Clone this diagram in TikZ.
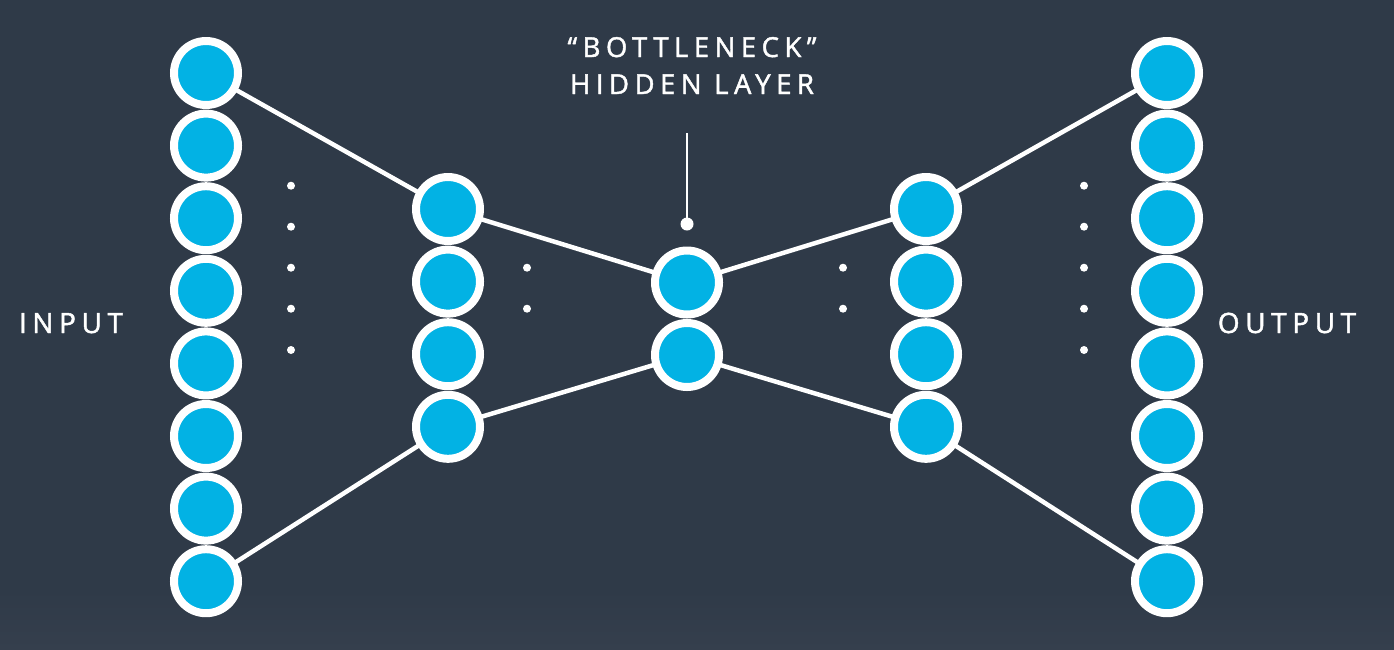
\documentclass[tikz,border=0pt]{standalone}
\usepackage{fontspec}
\newfontfamily\lblfont{Open Sans}[LetterSpace=20,FakeBold=1.6]
\usetikzlibrary{backgrounds}
\definecolor{bgcol}{RGB}{47,58,72}
\definecolor{bgbot}{RGB}{53,63,77}
\definecolor{nodeblue}{RGB}{2,178,228}
\pgfdeclarelayer{back}
\pgfsetlayers{back,background,main}
\tikzset{
  neuron/.style={circle, fill=nodeblue, draw=white, line width=8pt, minimum size=64pt, inner sep=0pt},
  conn/.style={white, line width=4.5pt},
  dotnode/.style={circle, fill=white, minimum size=8pt, inner sep=0pt},
  lbl/.style={text=white, font=\lblfont\fontsize{28}{34}\selectfont, inner sep=0pt, anchor=base},
  toplbl/.style={text=white, font=\lblfont\fontsize{27.5}{34}\selectfont, inner sep=0pt, anchor=base}
}
\begin{document}
\begin{tikzpicture}[x=1pt,y=-1pt]
\begin{pgfonlayer}{back}
  \fill[bgcol] (0,0) rectangle (1394,649);
  \shade[top color=bgcol, bottom color=bgbot] (0,590) rectangle (1394,649);
\end{pgfonlayer}
\useasboundingbox (0,0) rectangle (1394,649);
% input and output layers
\foreach \i in {1,...,8} {
  \node[neuron] (in\i) at (206,{73+72.6*(\i-1)}) {};
  \node[neuron] (out\i) at (1167,{73+72.6*(\i-1)}) {};
}
% second and fourth layers
\foreach \i in {1,...,4} {
  \node[neuron] (h\i) at (448,{209+72.6*(\i-1)}) {};
  \node[neuron] (g\i) at (926,{209+72.6*(\i-1)}) {};
}
% bottleneck
\node[neuron] (b1) at (687,282.5) {};
\node[neuron] (b2) at (687,355) {};
% connectors
\begin{pgfonlayer}{background}
  \draw[conn] (in1.center) -- (h1.center);
  \draw[conn] (in8.center) -- (h4.center);
  \draw[conn] (h1.center) -- (b1.center);
  \draw[conn] (h4.center) -- (b2.center);
  \draw[conn] (b1.center) -- (g1.center);
  \draw[conn] (b2.center) -- (g4.center);
  \draw[conn] (g1.center) -- (out1.center);
  \draw[conn] (g4.center) -- (out8.center);
\end{pgfonlayer}
% dots
\foreach \j/\y in {1/185.7,2/226.7,3/267.7,4/308.7,5/350} {
  \node[dotnode] (da\j) at (291,\y) {};
  \node[dotnode] (dd\j) at (1084,\y) {};
}
\foreach \j/\y in {1/267.7,2/308.7} {
  \node[dotnode] (db\j) at (527,\y) {};
  \node[dotnode] (dc\j) at (843,\y) {};
}
% labels
\node[lbl] (inlbl) at (71,333) {INPUT};
\node[lbl] (outlbl) at (1287,333) {OUTPUT};
\node[toplbl] (t1) at (692,57) {“BOTTLENECK”};
\node[toplbl] (t2) at (692,94) {HIDDEN LAYER};
% pointer
\coordinate (ptop) at (687,133);
\node[circle, fill=white, minimum size=13pt, inner sep=0pt] (pdot) at (687,224) {};
\draw[white, line width=2.7pt] (ptop) -- (pdot.center);
\end{tikzpicture}
\end{document}
